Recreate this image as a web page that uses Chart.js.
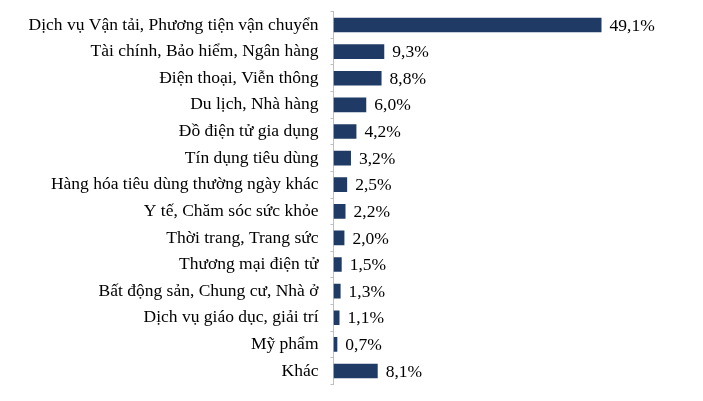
<!DOCTYPE html>
<html lang="vi">
<head>
    <meta charset="UTF-8">
    <title>Tỷ lệ theo lĩnh vực</title>
    <script src="https://cdn.jsdelivr.net/npm/chart.js"></script>
    <style>
        html, body { margin: 0; padding: 0; background: #fff; }
        #wrap { width: 703px; height: 401px; }
    </style>
</head>
<body>
    <div id="wrap"><canvas id="chart"></canvas></div>
    <script>
        const categories = [
            'Dịch vụ Vận tải, Phương tiện vận chuyển',
            'Tài chính, Bảo hiểm, Ngân hàng',
            'Điện thoại, Viễn thông',
            'Du lịch, Nhà hàng',
            'Đồ điện tử gia dụng',
            'Tín dụng tiêu dùng',
            'Hàng hóa tiêu dùng thường ngày khác',
            'Y tế, Chăm sóc sức khỏe',
            'Thời trang, Trang sức',
            'Thương mại điện tử',
            'Bất động sản, Chung cư, Nhà ở',
            'Dịch vụ giáo dục, giải trí',
            'Mỹ phẩm',
            'Khác'
        ];
        const shares = [49.1, 9.3, 8.8, 6.0, 4.2, 3.2, 2.5, 2.2, 2.0, 1.5, 1.3, 1.1, 0.7, 8.1];

        const serif = '"Liberation Serif", "Times New Roman", serif';

        // write the value (with comma decimal) just after each bar
        const valueLabels = {
            id: 'valueLabels',
            afterDatasetsDraw(chart) {
                const ctx = chart.ctx;
                const meta = chart.getDatasetMeta(0);
                ctx.save();
                ctx.font = '17.5px ' + serif;
                ctx.fillStyle = '#000';
                ctx.textBaseline = 'middle';
                ctx.textAlign = 'left';
                meta.data.forEach((bar, i) => {
                    const txt = shares[i].toFixed(1).replace('.', ',') + '%';
                    ctx.fillText(txt, bar.x + 8, bar.y + 1);
                });
                ctx.restore();
            }
        };

        new Chart(document.getElementById('chart'), {
            type: 'bar',
            data: {
                labels: categories,
                datasets: [{
                    data: shares,
                    backgroundColor: '#1f3a64',
                    barPercentage: 0.55,
                    categoryPercentage: 1
                }]
            },
            options: {
                indexAxis: 'y',
                responsive: true,
                maintainAspectRatio: false,
                animation: false,
                layout: { padding: { top: 11.7, bottom: 16.7, right: 42, left: 0 } },
                plugins: {
                    legend: { display: false },
                    tooltip: { enabled: false }
                },
                scales: {
                    x: {
                        display: false,
                        min: 0,
                        max: 60
                    },
                    y: {
                        afterFit(scale) {
                            scale.width = 333.5;
                            scale.paddingTop = 0;
                            scale.paddingBottom = 0;
                        },
                        border: { display: true, color: '#bfbfbf', width: 1 },
                        grid: {
                            offset: true,
                            drawOnChartArea: false,
                            drawTicks: true,
                            tickLength: 3,
                            color: '#bfbfbf'
                        },
                        ticks: {
                            color: '#000',
                            padding: 12,
                            font: { family: serif, size: 17.5 }
                        }
                    }
                }
            },
            plugins: [valueLabels]
        });
    </script>
</body>
</html>
